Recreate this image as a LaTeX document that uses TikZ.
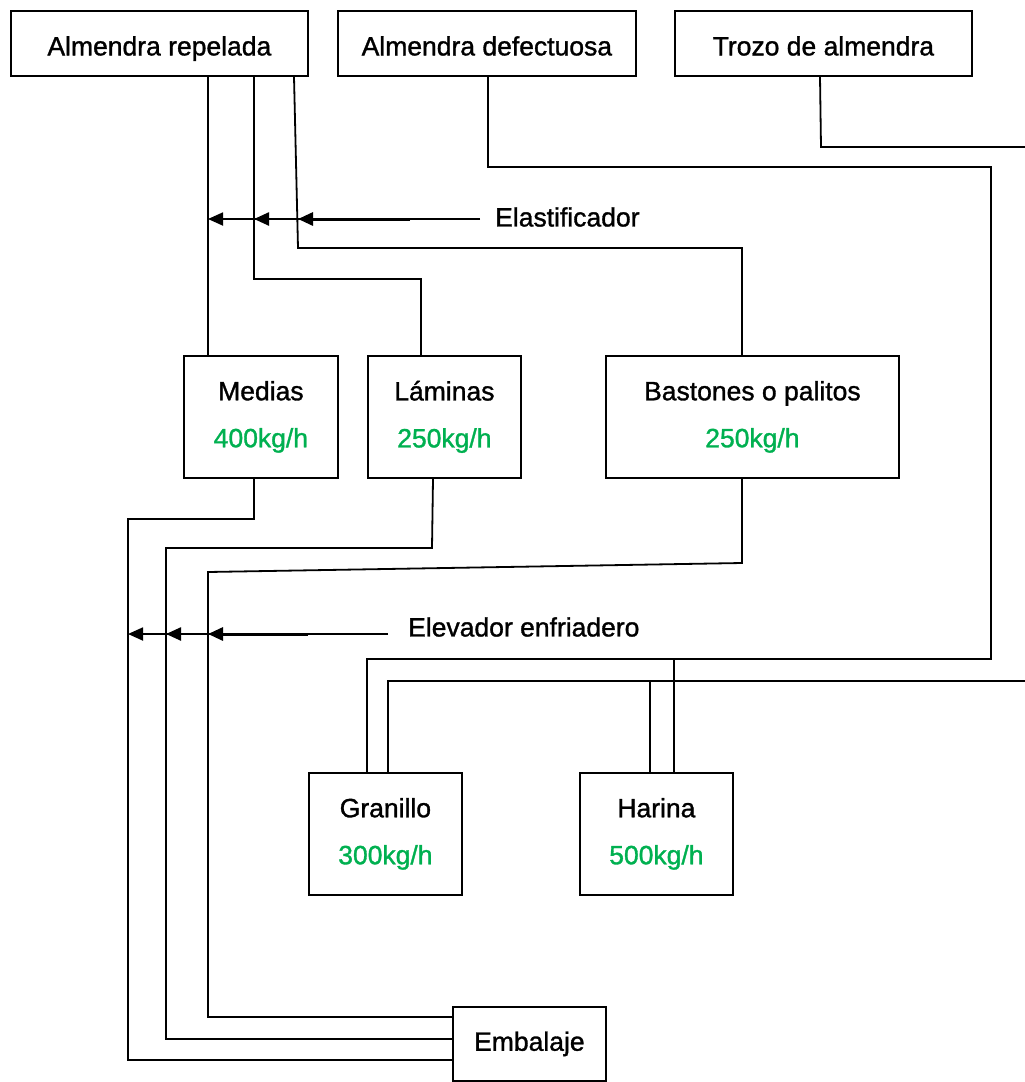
\documentclass[tikz,border=0pt]{standalone}
\usepackage{fontspec}
\setmainfont{Liberation Sans}
\newfontfamily\diafont{Liberation Sans}[FakeBold=1.2]
\usetikzlibrary{arrows.meta}
\definecolor{valgreen}{RGB}{0,176,80}
\begin{document}
\begin{tikzpicture}[x=1pt,y=-1pt,
  box/.style={draw,line width=1.8pt,anchor=north west,inner sep=0pt,align=center,
    font=\diafont\fontsize{26.5}{47}\selectfont},
  topbox/.style={box,minimum height=65pt,text height=24pt,text depth=0pt},
  flow/.style={line width=1.8pt},
  arr/.style={line width=1.8pt,-{Triangle[length=15pt,width=13pt]}},
  lbl/.style={anchor=west,inner sep=0pt,font=\diafont\fontsize{26.5}{30}\selectfont}]
\useasboundingbox (0,0) rectangle (1025,1082);
% boxes
\node[topbox,minimum width=297pt] (rep) at (10,10) {Almendra repelada};
\node[topbox,minimum width=298pt] (def) at (337,10) {Almendra defectuosa};
\node[topbox,minimum width=297pt] (tro) at (674,10) {Trozo de almendra};
\node[box,minimum width=154pt,minimum height=122pt] (med) at (183,355) {Medias\\\textcolor{valgreen}{400kg/h}};
\node[box,minimum width=153pt,minimum height=122pt] (lam) at (367,355) {Láminas\\\textcolor{valgreen}{250kg/h}};
\node[box,minimum width=293pt,minimum height=122pt] (bas) at (605,355) {Bastones o palitos\\\textcolor{valgreen}{250kg/h}};
\node[box,minimum width=153pt,minimum height=122pt] (gra) at (308,772) {Granillo\\\textcolor{valgreen}{300kg/h}};
\node[box,minimum width=153pt,minimum height=122pt] (har) at (579,772) {Harina\\\textcolor{valgreen}{500kg/h}};
\node[box,minimum width=153pt,minimum height=74pt] (emb) at (452,1006) {Embalaje};
% labels
\node[lbl] (ela) at (495,217) {Elastificador};
\node[lbl] (ele) at (408,627) {Elevador enfriadero};
% free ends at the right edge
\coordinate (outT) at (1025,147);
\coordinate (inR) at (1025,681);
% flows from Almendra repelada
\draw[flow] (rep.south -| 208,0) -- (med.north -| 208,0);
\draw[flow] (rep.south -| 254,0) -- (254,279) -- (421,279) -- (lam.north -| 421,0);
\draw[flow] (rep.south -| 294,0) -- (298,248) -- (742,248) -- (bas.north -| 742,0);
% Almendra defectuosa
\draw[flow] (def.south -| 488,0) -- (488,167) -- (991,167) -- (991,659) -- (367,659) -- (gra.north -| 367,0);
\draw[flow] (674,659) -- (har.north -| 674,0);
% Trozo de almendra
\draw[flow] (tro.south -| 820,0) -- (821,147) -- (outT);
\draw[flow] (inR) -- (388,681) -- (gra.north -| 388,0);
\draw[flow] (650,681) -- (har.north -| 650,0);
% to Embalaje
\draw[flow] (med.south -| 254,0) -- (254,519) -- (128,519) -- (128,1060) -- (emb.west |- 0,1060);
\draw[flow] (lam.south -| 433,0) -- (432,548) -- (166,548) -- (166,1039) -- (emb.west |- 0,1039);
\draw[flow] (bas.south -| 742,0) -- (742,563) -- (208,572) -- (208,1017) -- (emb.west |- 0,1017);
% Elastificador arrows
\draw[arr] (ela.west |- 0,219) ++(-15,0) -- (208,219);
\draw[arr,line width=2.4pt] (448,219) -- (254,219);
\draw[arr,line width=3pt] (410,219) -- (298,219);
% Elevador arrows
\draw[arr] (ele.west |- 0,634) ++(-20,0) -- (128,634);
\draw[arr,line width=2.4pt] (348,634) -- (166,634);
\draw[arr,line width=3pt] (308,634) -- (208,634);
\end{tikzpicture}
\end{document}
